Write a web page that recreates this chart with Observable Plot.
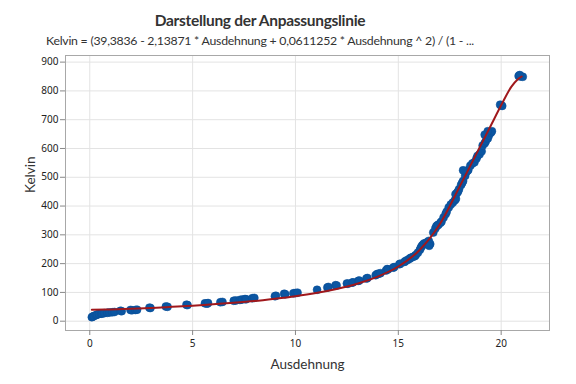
<!DOCTYPE html>
<html>
<head>
<meta charset="utf-8">
<script src="https://cdn.jsdelivr.net/npm/d3@7"></script>
<script src="https://cdn.jsdelivr.net/npm/@observablehq/plot@0.6"></script>
<style>
  html, body { margin: 0; padding: 0; background: #fff; }
  #wrap { position: relative; width: 576px; height: 384px; font-family: "Noto Sans", "Open Sans", sans-serif; }
  #title { position: absolute; left: 0; width: 520px; top: 11px; text-align: center; font-family: Lato, sans-serif; font-size: 15.5px; letter-spacing: -0.3px; font-weight: 700; color: #333; }
  #subtitle { position: absolute; left: 0; width: 520px; top: 33px; text-align: center; font-family: Lato, sans-serif; font-size: 12.3px; letter-spacing: -0.25px; color: #333; }
  #chart { position: absolute; left: 0; top: 0; }
</style>
</head>
<body>
<div id="wrap">
  <div id="chart"></div>
  <div id="title">Darstellung der Anpassungslinie</div>
  <div id="subtitle">Kelvin = (39,3836 - 2,13871 * Ausdehnung + 0,0611252 * Ausdehnung ^ 2) / (1 - ...</div>
</div>
<script>
const ausdehnung = [
  0.10, 0.15, 0.20, 0.30, 0.36, 0.45, 0.55, 0.60, 0.70, 0.85, 0.95, 1.09, 1.20, 1.49, 1.55,
  1.98, 2.05, 2.22, 2.30, 2.90, 2.95, 3.70, 3.78, 4.70, 4.75, 5.60, 5.70, 5.75, 6.35, 6.45,
  7.00, 7.10, 7.30, 7.40, 7.55, 7.60, 7.90, 8.00, 9.00, 9.05, 9.45, 9.50, 9.90, 10.00, 10.10,
  11.05, 11.55, 11.60, 11.95, 12.00, 12.50, 12.55, 12.75, 12.80, 13.05, 13.10, 13.45, 13.50,
  13.90, 13.97, 14.05, 14.13, 14.40, 14.46, 14.50, 14.75, 14.80, 15.05, 15.10, 15.30, 15.35,
  15.45, 15.55, 15.60, 15.70, 15.80, 15.85, 15.95, 16.05, 16.10, 16.15, 16.20, 16.25, 16.35,
  16.40, 16.48, 16.55, 16.50, 16.70, 16.80, 16.85, 16.90, 16.95, 17.05, 17.10, 17.20, 17.30,
  17.35, 17.45, 17.55, 17.65, 17.75, 17.80, 17.78, 17.85, 17.90, 17.95, 18.05, 18.10, 18.15,
  18.25, 18.30, 18.35, 18.40, 18.15, 18.50, 18.60, 18.70, 18.80, 18.85, 18.95, 19.05, 19.10,
  19.20, 19.25, 19.35, 19.40, 19.50, 19.55, 19.35, 19.20, 20.00, 20.05, 19.95, 20.85, 20.95,
  21.05, 20.90
];
const kelvin = [
  14, 16, 18, 21, 23, 25, 26, 27, 28, 29, 30, 31, 32, 36, 35,
  39, 38, 39, 40, 47, 46, 51, 50, 57, 56, 62, 61, 63, 66, 67,
  71, 72, 74, 75, 77, 76, 80, 81, 87, 88, 95, 94, 97, 98, 99,
  109, 117, 119, 125, 124, 131, 130, 134, 135, 140, 141, 148, 150,
  160, 164, 165, 167, 176, 181, 180, 186, 188, 198, 200, 206, 209,
  213, 217, 220, 223, 226, 230, 238, 248, 256, 262, 266, 270, 272,
  274, 279, 268, 262, 308, 322, 330, 333, 335, 342, 346, 360, 372,
  380, 395, 405, 412, 420, 425, 441, 445, 450, 458, 473, 480, 487,
  505, 518, 522, 525, 524, 540, 548, 552, 565, 574, 580, 590, 610,
  618, 625, 635, 645, 655, 660, 660, 648, 750, 748, 752, 852, 850,
  849, 855
];
// fitted line
const fitX = [0.1, 1, 2, 3, 4, 5, 6, 7, 8, 9, 10, 11, 12, 13, 14, 15, 16, 17, 18, 19, 19.5, 20, 20.5, 20.8, 21.0];
const fitY = [40, 41, 43, 46, 50, 54, 59, 64, 70, 78, 87, 98, 112, 130, 155, 190, 245, 335, 470, 610, 680, 750, 815, 840, 850];
const xTicks = [0, 5, 10, 15, 20];
const yTicks = [0, 100, 200, 300, 400, 500, 600, 700, 800, 900];

const points = ausdehnung.map((a, i) => ({a, k: kelvin[i]}));
const fit = fitX.map((a, i) => ({a, k: fitY[i]}));

const chart = Plot.plot({
  width: 576,
  height: 384,
  marginTop: 55,
  marginBottom: 54,
  marginLeft: 65,
  marginRight: 27,
  style: {fontFamily: "'Noto Sans', 'Open Sans', sans-serif", fontSize: "10px", color: "#222", background: "transparent"},
  x: {domain: [-1.18, 22.35], ticks: xTicks, label: null},
  y: {domain: [-32.3, 923], ticks: yTicks, label: null},
  marks: [
    Plot.gridX(xTicks, {stroke: "#e3e3e3", strokeOpacity: 1}),
    Plot.gridY(yTicks, {stroke: "#e3e3e3", strokeOpacity: 1}),
    Plot.frame({stroke: "#a8a8a8"}),
    Plot.axisX(xTicks, {tickSize: 5, tickPadding: 4, stroke: "#888", fill: "#222", fontSize: 10, label: null}),
    Plot.axisY(yTicks, {tickSize: 5, tickPadding: 2, stroke: "#888", fill: "#222", fontSize: 10, label: null}),
    Plot.text(["Ausdehnung"], {frameAnchor: "bottom", dy: 38, fontSize: 13.5, fill: "#333", fontFamily: "Lato, sans-serif"}),
    Plot.text(["Kelvin"], {frameAnchor: "left", dx: -35, rotate: -90, fontSize: 13.5, fill: "#333", fontFamily: "Lato, sans-serif"}),
    Plot.dot(points, {x: "a", y: "k", r: 4, fill: "#0b56a2", stroke: "#0a4f96", strokeWidth: 0.5}),
    Plot.line(fit, {x: "a", y: "k", stroke: "#a0181c", strokeWidth: 2, curve: "monotone-x"})
  ]
});
document.getElementById("chart").appendChild(chart);
</script>
</body>
</html>
